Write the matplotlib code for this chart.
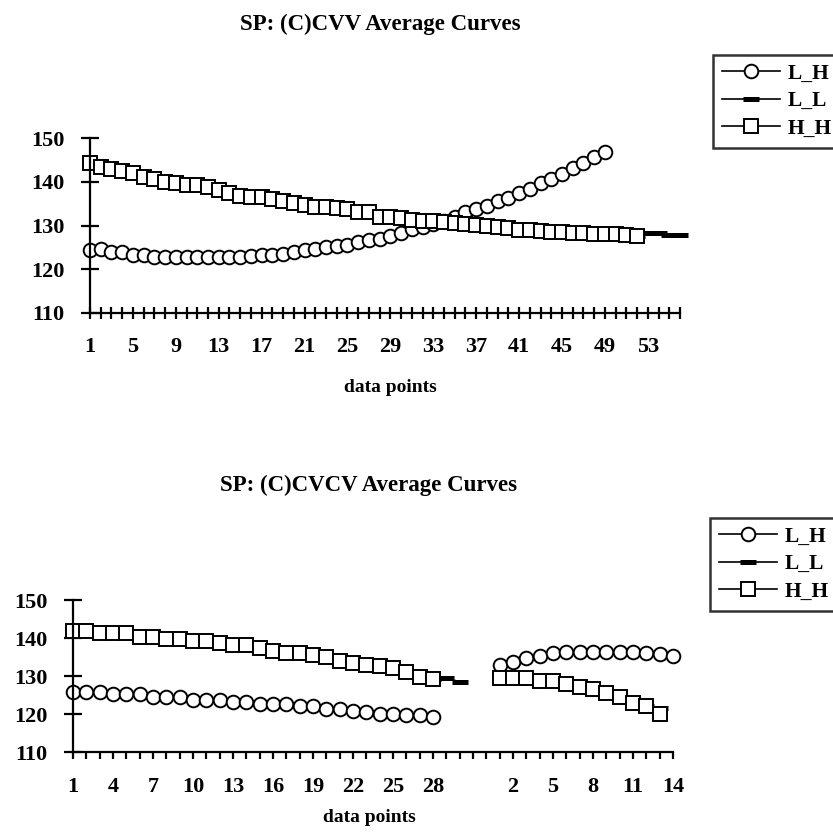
import numpy as np
import matplotlib
matplotlib.use("Agg")
import matplotlib.pyplot as plt
from matplotlib.lines import Line2D

plt.rcParams['font.family'] = ['Liberation Serif', 'DejaVu Serif']
plt.rcParams['font.weight'] = 'bold'

# ---- data: top chart, SP: (C)CVV ----
top_categories = [str(i) for i in range(1, 57)]
top_lh = [124.5, 124.6, 124.0, 124.0, 123.3, 123.2, 122.9, 122.8, 122.8, 122.8,
          122.8, 122.8, 122.8, 122.8, 122.8, 123.1, 123.3, 123.3, 123.5, 124.0,
          124.3, 124.7, 125.0, 125.3, 125.6, 126.2, 126.6, 127.0, 127.6, 128.2,
          129.2, 129.6, 130.3, 131.1, 132.0, 133.2, 133.7, 134.5, 135.6, 136.4,
          137.4, 138.3, 139.7, 140.6, 141.7, 143.2, 144.4, 145.6, 146.9]
top_ll = [144.0, 143.2, 142.8, 142.4, 142.0, 141.1, 140.5, 140.0, 139.7, 139.3,
          139.2, 138.8, 138.1, 137.4, 136.8, 136.6, 136.4, 136.0, 135.5, 135.0,
          134.7, 134.3, 134.1, 133.9, 133.7, 133.2, 132.9, 132.1, 131.9, 131.6,
          131.3, 131.0, 130.9, 130.7, 130.5, 130.3, 130.1, 129.8, 129.6, 129.4,
          129.0, 128.9, 128.8, 128.6, 128.5, 128.4, 128.3, 128.2, 128.1, 128.0,
          127.9, 127.6, 128.2, 128.2, 127.8, 127.8]
top_hh = [144.2, 143.3, 142.9, 142.5, 142.1, 141.2, 140.6, 140.0, 139.8, 139.3,
          139.3, 138.9, 138.1, 137.5, 136.8, 136.6, 136.5, 136.0, 135.5, 135.1,
          134.7, 134.3, 134.2, 134.0, 133.8, 133.2, 133.0, 132.0, 132.0, 131.7,
          131.3, 131.0, 131.0, 130.8, 130.6, 130.3, 130.2, 129.8, 129.6, 129.5,
          129.0, 128.9, 128.8, 128.6, 128.5, 128.4, 128.2, 128.1, 128.0, 128.0,
          127.9, 127.5]

# ---- data: bottom chart, SP: (C)CVCV (two blocks, blank categories between) ----
bot_categories = ([str(i) for i in range(1, 29)] + [''] * 4
                  + [str(i) for i in range(1, 15)])
bot_lh_a = [125.8, 125.8, 125.8, 125.2, 125.2, 125.2, 124.5, 124.5, 124.5, 123.6,
            123.6, 123.6, 123.2, 123.2, 122.6, 122.6, 122.6, 122.1, 122.1, 121.3,
            121.3, 120.8, 120.6, 120.1, 120.1, 119.7, 119.7, 119.1]
bot_lh_b = [132.9, 133.7, 134.8, 135.3, 136.0, 136.4, 136.4, 136.4, 136.4, 136.4,
            136.4, 136.0, 135.8, 135.3]
bot_ll_a = [141.8, 141.8, 141.3, 141.3, 141.3, 140.3, 140.1, 139.8, 139.7, 139.3,
            139.2, 138.8, 138.2, 138.1, 137.3, 136.6, 136.0, 135.9, 135.5, 134.9,
            134.0, 133.4, 132.9, 132.6, 132.0, 131.1, 129.9, 129.3, 129.4, 128.5]
bot_ll_b = [129.3, 129.3, 129.3, 128.7, 128.6, 128.0, 127.2, 126.7, 125.6, 124.5,
            122.9, 122.1, 121.7]
bot_hh_a = [141.9, 141.9, 141.4, 141.4, 141.4, 140.3, 140.2, 139.8, 139.8, 139.3,
            139.3, 138.8, 138.2, 138.2, 137.3, 136.6, 136.0, 136.0, 135.5, 134.9,
            134.0, 133.4, 132.9, 132.6, 132.0, 131.1, 129.8, 129.2]
bot_hh_b = [129.4, 129.4, 129.4, 128.7, 128.7, 128.0, 127.2, 126.7, 125.6, 124.5,
            122.9, 122.1, 119.9]
bot_second_start = 32  # second block begins at category index 33

series_names = ['L_H', 'L_L', 'H_H']
y_ticks = [110, 120, 130, 140, 150]


def place(n, blocks):
    # put blocks of values on the category axis, blanks elsewhere
    out = np.full(n, np.nan)
    for start, values in blocks:
        out[start:start + len(values)] = values
    return out


n_top = len(top_categories)
n_bot = len(bot_categories)
top_series = [place(n_top, [(0, s)]) for s in (top_lh, top_ll, top_hh)]
bot_series = [place(n_bot, [(0, a), (bot_second_start, b)])
              for a, b in [(bot_lh_a, bot_lh_b), (bot_ll_a, bot_ll_b), (bot_hh_a, bot_hh_b)]]

styles = [dict(marker='o', ms=9.8, mfc='white', mec='black', mew=1.4),
          dict(marker='_', ms=12, mec='black', mew=3.6),
          dict(marker='s', ms=10.2, mfc='white', mec='black', mew=1.4)]

fig = plt.figure(figsize=(8.33, 8.36), dpi=100)


def panel(rect, categories, series, label_every, xtick_dir, title, title_xy, xlabel_xy, legend_xy):
    ax = fig.add_axes(rect)
    x = np.arange(1, len(categories) + 1)
    for vals, st in zip(series, styles):
        ax.plot(x, vals, color='black', lw=1.2, clip_on=False, **st)
    ax.set_xlim(1, len(categories))
    ax.set_ylim(110, 150)
    for side in ['top', 'right']:
        ax.spines[side].set_visible(False)
    for side in ['left', 'bottom']:
        ax.spines[side].set_linewidth(1.6)
    ax.set_yticks(y_ticks)
    ax.set_xticks(x)
    ax.set_xticklabels([c if i % label_every == 0 else '' for i, c in enumerate(categories)])
    ax.tick_params(axis='y', direction='inout', length=13, width=1.6, labelsize=16, pad=12)
    ax.tick_params(axis='x', direction=xtick_dir, length=8 if xtick_dir == 'inout' else 5,
                   width=1.6, labelsize=16, pad=13)
    fig.text(title_xy[0], title_xy[1], title, ha='center', va='center', fontsize=16.5,
             fontweight='bold')
    fig.text(xlabel_xy[0], xlabel_xy[1], 'data points', ha='center', va='center', fontsize=14,
             fontweight='bold')
    handles = [Line2D([], [], color='black', lw=1.2, **st) for st in styles]
    leg = fig.legend(handles, series_names, loc='upper left', bbox_to_anchor=legend_xy,
                     borderaxespad=0, fontsize=15.5, frameon=True, fancybox=False,
                     handlelength=2.7, handletextpad=0.35, labelspacing=0.35, borderpad=0.4)
    leg.get_frame().set_edgecolor('black')
    leg.get_frame().set_linewidth(1.8)
    return ax


panel([90 / 833, 1 - 313 / 836, 590 / 833, 175 / 836], top_categories, top_series, 4, 'inout',
      'SP: (C)CVV Average Curves', (380 / 833, 1 - 24 / 836), (390 / 833, 1 - 388 / 836),
      (713 / 833, 1 - 55 / 836))
panel([73 / 833, 1 - 752 / 836, 600 / 833, 152 / 836], bot_categories, bot_series, 3, 'out',
      'SP: (C)CVCV Average Curves', (369 / 833, 1 - 485 / 836), (369 / 833, 1 - 818 / 836),
      (710 / 833, 1 - 518 / 836))

fig.savefig('out.png', dpi=100)
